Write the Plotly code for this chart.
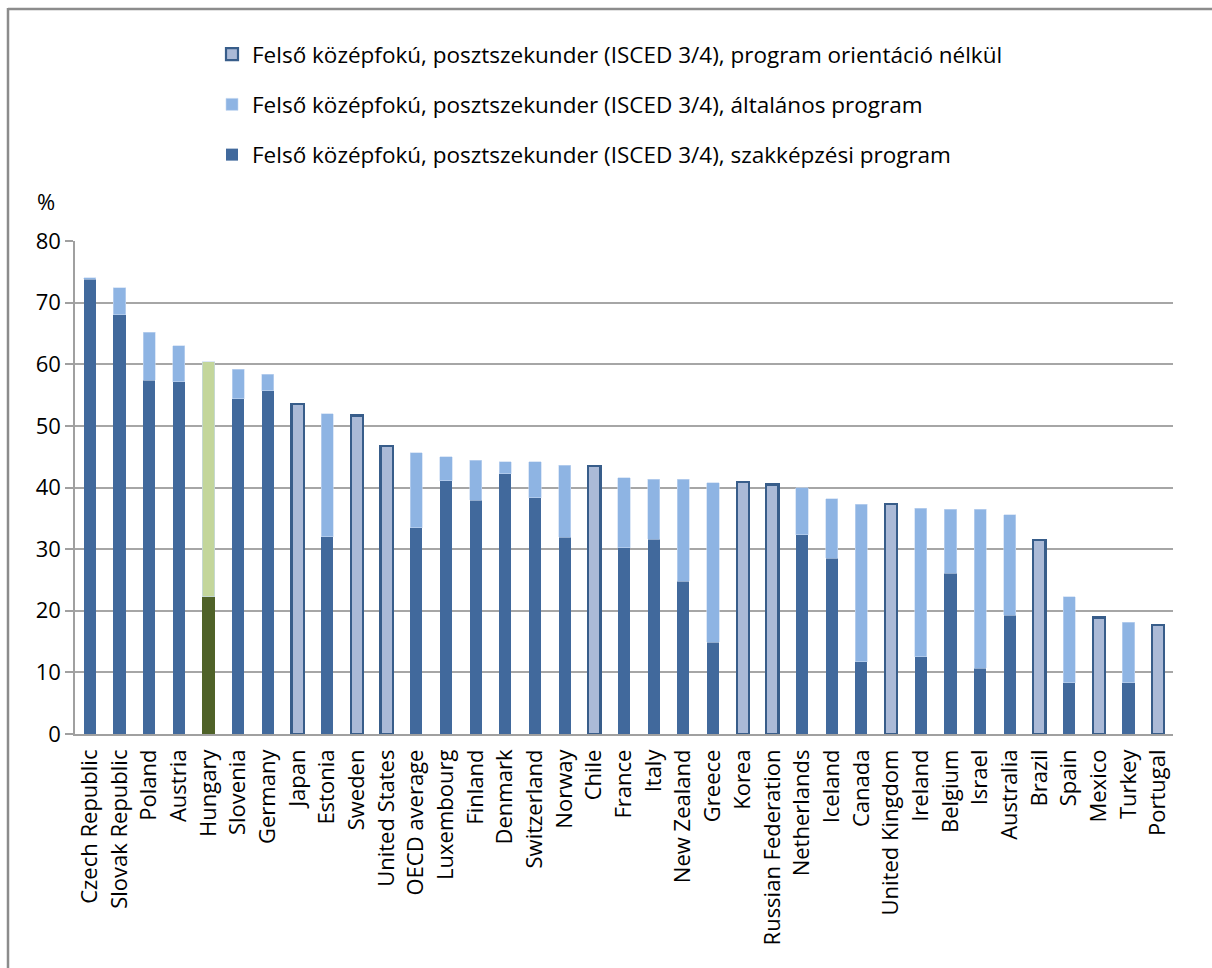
import plotly.graph_objects as go

countries = [
    "Czech Republic", "Slovak Republic", "Poland", "Austria", "Hungary",
    "Slovenia", "Germany", "Japan", "Estonia", "Sweden", "United States",
    "OECD average", "Luxembourg", "Finland", "Denmark", "Switzerland",
    "Norway", "Chile", "France", "Italy", "New Zealand", "Greece", "Korea",
    "Russian Federation", "Netherlands", "Iceland", "Canada",
    "United Kingdom", "Ireland", "Belgium", "Israel", "Australia", "Brazil",
    "Spain", "Mexico", "Turkey", "Portugal",
]

# Vocational programmes (szakképzési program)
vocational = [
    73.8, 68.0, 57.4, 57.2, 22.3, 54.4, 55.7, None, 32.0, None, None,
    33.5, 41.1, 37.9, 42.2, 38.3, 31.9, None, 30.2, 31.6, 24.8, 14.9, None,
    None, 32.3, 28.5, 11.7, None, 12.5, 26.1, 10.7, 19.3, None,
    8.3, None, 8.3, None,
]

# General programmes (általános program)
general = [
    0.2, 4.4, 7.8, 5.8, 38.1, 4.8, 2.7, None, 20.0, None, None,
    12.1, 3.9, 6.5, 2.0, 5.9, 11.7, None, 11.4, 9.7, 16.5, 25.9, None,
    None, 7.7, 9.7, 25.6, None, 24.1, 10.4, 25.8, 16.3, None,
    14.0, None, 9.8, None,
]

# Programmes without orientation (program orientáció nélkül)
no_orientation = [
    None, None, None, None, None, None, None, 53.5, None, 51.7, 46.7,
    None, None, None, None, None, None, 43.5, None, None, None, None, 40.9,
    40.5, None, None, None, 37.3, None, None, None, None, 31.5,
    None, 18.9, None, 17.7,
]

legend_names = [
    "Felső középfokú, posztszekunder (ISCED 3/4), szakképzési program",
    "Felső középfokú, posztszekunder (ISCED 3/4), általános program",
    "Felső középfokú, posztszekunder (ISCED 3/4), program orientáció nélkül",
]

y_ticks = [0, 10, 20, 30, 40, 50, 60, 70, 80]

VOC = "#41699C"
GEN = "#8EB4E3"
NONE_FILL = "#ABBAD7"
NONE_LINE = "#385D8A"
HU_VOC = "#4F6228"
HU_GEN = "#C3D69B"

highlight = "Hungary"
voc_colors = [HU_VOC if c == highlight else VOC for c in countries]
gen_colors = [HU_GEN if c == highlight else GEN for c in countries]

FONT = "Open Sans, Segoe UI, DejaVu Sans, sans-serif"

fig = go.Figure()
fig.add_trace(go.Bar(
    x=countries, y=vocational, name=legend_names[0],
    marker=dict(color=voc_colors, line=dict(width=0)),
    legendgroup="a", legendrank=3,
))
fig.add_trace(go.Bar(
    x=countries, y=general, name=legend_names[1],
    marker=dict(color=gen_colors, line=dict(width=0.6, color="#C6D9F1")),
    legendgroup="b", legendrank=2,
))
fig.add_trace(go.Bar(
    x=countries, y=no_orientation, name=legend_names[2],
    marker=dict(color=NONE_FILL, line=dict(width=2.2, color=NONE_LINE)),
    legendgroup="c", legendrank=1,
))

W, H = 1212, 968
L, R, T, B = 75, 39, 241, 234
pw, ph = W - L - R, H - T - B

def px(x):
    return (x - L) / pw

def py(y):
    return (H - B - y) / ph

fig.update_layout(
    width=W, height=H,
    margin=dict(l=L, r=R, t=T, b=B, autoexpand=False),
    barmode="stack",
    bargap=0.59,
    paper_bgcolor="white",
    plot_bgcolor="white",
    font=dict(family=FONT, size=22, color="#000000"),
    showlegend=True,
    legend=dict(
        x=px(212), y=py(33), xanchor="left", yanchor="top",
        traceorder="grouped",
        tracegroupgap=18,
        font=dict(size=22.5, family=FONT, color="#000000"),
        itemwidth=30,
        bgcolor="rgba(0,0,0,0)",
    ),
    xaxis=dict(
        type="category",
        tickangle=-90,
        tickfont=dict(size=22, family=FONT, color="#000000"),
        ticklabelstandoff=5,
        showline=True, linecolor="#A0A0A0", linewidth=1.5,
        ticks="", showgrid=False,
    ),
    yaxis=dict(
        range=[0, 80],
        tickvals=y_ticks,
        ticks="outside", ticklen=8, tickcolor="#A0A0A0", tickwidth=1.5,
        tickfont=dict(size=22, family=FONT, color="#000000"),
        showline=True, linecolor="#A0A0A0", linewidth=1.5,
        showgrid=True, gridcolor="#A6A6A6", gridwidth=1.5,
        zeroline=False,
    ),
    annotations=[dict(
        text="%", xref="paper", yref="paper",
        x=px(46), y=py(201), xanchor="center", yanchor="middle",
        showarrow=False, font=dict(size=22, family=FONT, color="#000000"),
    )],
    shapes=[
        dict(type="line", xref="paper", yref="paper",
             x0=px(8), x1=px(W + 5), y0=py(9), y1=py(9),
             line=dict(color="#8C8C8C", width=2.5)),
        dict(type="line", xref="paper", yref="paper",
             x0=px(8), x1=px(8), y0=py(8), y1=py(H + 5),
             line=dict(color="#8C8C8C", width=2.5)),
    ],
)

fig.write_html("out.html")
